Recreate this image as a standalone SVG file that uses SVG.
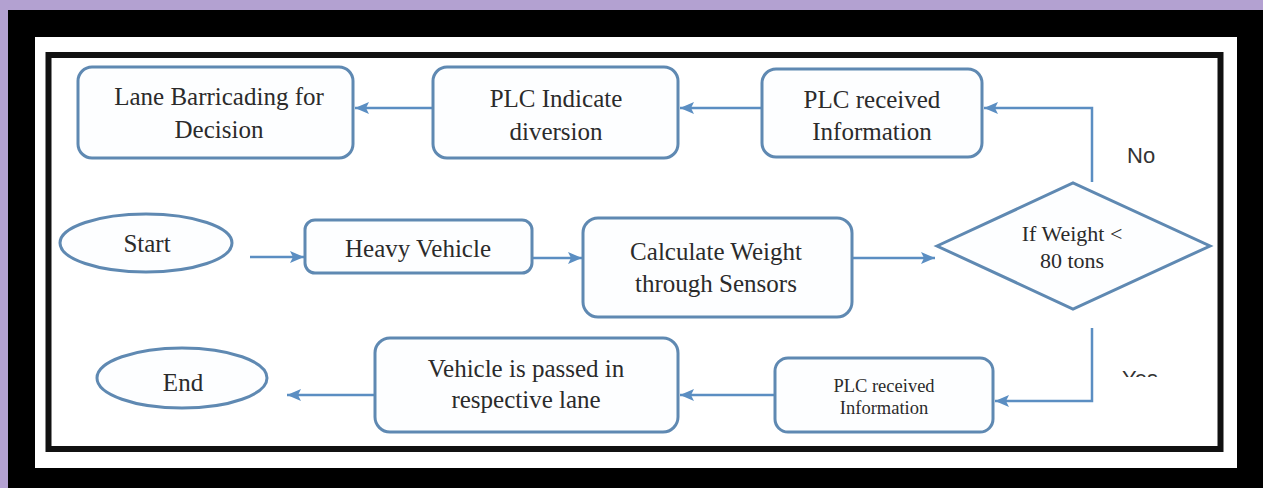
<svg xmlns="http://www.w3.org/2000/svg" width="1263" height="488" viewBox="0 0 1263 488">
<style>
.box{fill:#fdfeff;stroke:#5f89b2;stroke-width:3}
.t{font-family:"Liberation Serif","Times New Roman",serif;font-size:25px;fill:#2b2b2b;text-anchor:middle}
.s{font-family:"Liberation Sans",Arial,sans-serif;font-size:22px;fill:#333}
.c{fill:none;stroke:#5b8ec2;stroke-width:2.5}
</style>
<defs>
<marker id="ah" markerUnits="userSpaceOnUse" markerWidth="16" markerHeight="14" refX="14" refY="7" orient="auto">
<path d="M0,1 L14,7 L0,13 L3,7 Z" fill="#5b8ec2"/>
</marker>
<clipPath id="yesclip"><rect x="1100" y="360" width="100" height="17"/></clipPath>
</defs>
<rect x="0" y="0" width="1263" height="488" fill="#b3a1d1"/>
<rect x="8" y="10" width="1255" height="478" fill="#000"/>
<rect x="35" y="37" width="1202" height="431" fill="#fff"/>
<rect x="48.5" y="55" width="1172" height="394" fill="#fff" stroke="#111" stroke-width="6"/>

<g id="connectors">
<line class="c" x1="762" y1="108" x2="680" y2="108" marker-end="url(#ah)"/>
<line class="c" x1="433" y1="108" x2="355" y2="108" marker-end="url(#ah)"/>
<line class="c" x1="250" y1="257" x2="304" y2="257" marker-end="url(#ah)"/>
<line class="c" x1="532" y1="258" x2="582" y2="258" marker-end="url(#ah)"/>
<line class="c" x1="852" y1="258" x2="935" y2="258" marker-end="url(#ah)"/>
<polyline class="c" points="1092,182 1092,108 984,108" marker-end="url(#ah)"/>
<polyline class="c" points="1092,328 1092,401 995,401" marker-end="url(#ah)"/>
<line class="c" x1="775" y1="395" x2="680" y2="395" marker-end="url(#ah)"/>
<line class="c" x1="375" y1="395" x2="287" y2="395" marker-end="url(#ah)"/>
</g>

<g id="lane">
<rect class="box" x="78" y="67" width="275" height="91" rx="14"/>
<text class="t" x="219" y="105">Lane Barricading for</text>
<text class="t" x="219" y="138">Decision</text>
</g>
<g id="plcIndicate">
<rect class="box" x="433" y="67" width="245" height="91" rx="14"/>
<text class="t" x="556" y="107">PLC Indicate</text>
<text class="t" x="556" y="140">diversion</text>
</g>
<g id="plcTop">
<rect class="box" x="762" y="69" width="220" height="88" rx="14"/>
<text class="t" x="872" y="108">PLC received</text>
<text class="t" x="872" y="140">Information</text>
</g>
<g id="start">
<ellipse class="box" cx="146" cy="243" rx="86" ry="29"/>
<text class="t" x="147" y="252">Start</text>
</g>
<g id="heavy">
<rect class="box" x="305" y="220" width="227" height="53" rx="10"/>
<text class="t" x="418" y="257">Heavy Vehicle</text>
</g>
<g id="calc">
<rect class="box" x="583" y="218" width="269" height="99" rx="15"/>
<text class="t" x="716" y="260">Calculate Weight</text>
<text class="t" x="716" y="292">through Sensors</text>
</g>
<g id="decision">
<polygon class="box" points="937,246 1073,183 1210,246 1073,309"/>
<text class="t" x="1072" y="241" style="font-size:22px">If Weight &lt;</text>
<text class="t" x="1072" y="268" style="font-size:22px">80 tons</text>
</g>
<g id="plcBottom">
<rect class="box" x="775" y="358" width="218" height="74" rx="13"/>
<text class="t" x="884" y="392" style="font-size:18.5px">PLC received</text>
<text class="t" x="884" y="414" style="font-size:18.5px">Information</text>
</g>
<g id="vehiclePassed">
<rect class="box" x="375" y="338" width="303" height="94" rx="15"/>
<text class="t" x="526" y="377">Vehicle is passed in</text>
<text class="t" x="526" y="408">respective lane</text>
</g>
<g id="end">
<ellipse class="box" cx="182" cy="378" rx="85" ry="30"/>
<text class="t" x="183" y="391">End</text>
</g>
<g id="labels">
<text class="s" x="1127" y="163">No</text>
<text class="s" x="1122" y="386" clip-path="url(#yesclip)">Yes</text>
</g>
</svg>
